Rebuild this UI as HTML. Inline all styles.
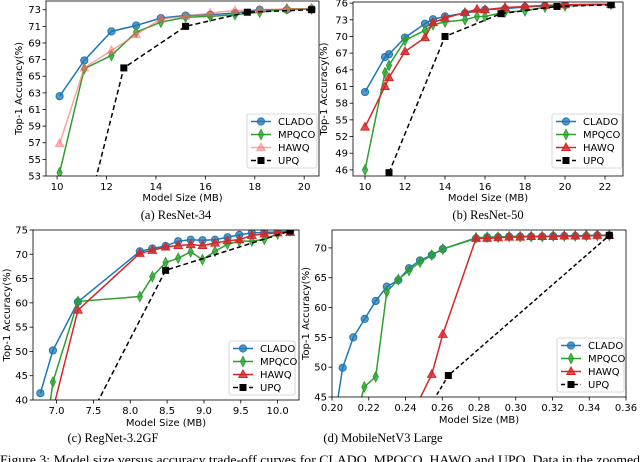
<!DOCTYPE html>
<html><head><meta charset="utf-8">
<style>
body{margin:0;background:#fff;}
svg{display:block;font-family:"DejaVu Sans","Liberation Sans",sans-serif;}
.cap{font-family:"Liberation Serif",serif;font-size:12.5px;}
</style></head>
<body>
<svg id="fig" width="640" height="462" viewBox="0 0 640 462" xmlns="http://www.w3.org/2000/svg"></svg>
<script>
// ---- (a) ResNet-34 ----
const aCladoX=[10.1,11.1,12.2,13.2,14.2,15.2,16.2,17.2,18.2,19.3,20.3];
const aCladoY=[62.6,66.9,70.4,71.1,72.0,72.3,72.4,72.6,73.0,73.0,73.1];
const aMpqcoX=[10.1,11.1,12.2,13.2,14.2,15.2,16.2,17.2,18.2,19.3,20.3];
const aMpqcoY=[53.4,65.9,67.5,70.3,71.5,72.1,72.2,72.4,72.7,73.1,73.1];
const aHawqX=[10.1,11.1,12.2,13.2,14.2,15.2,16.2,17.2,18.2,19.3,20.3];
const aHawqY=[56.9,66.0,68.1,70.0,71.9,72.2,72.6,72.9,73.0,73.1,73.1];
const aUpqX=[11.0,12.7,15.2,17.7,20.3];
const aUpqY=[46.0,66.0,71.0,72.7,73.0];
const aXTicks=[10,12,14,16,18,20];
const aYTicks=[53,55,57,59,61,63,65,67,69,71,73];
// ---- (b) ResNet-50 ----
const bCladoX=[10,11,11.2,12,13,13.4,14,15,16,17,18,19,20,22.3];
const bCladoY=[60,66.3,66.8,69.8,72.3,73.1,73.6,74.2,74.8,75,75.3,75.5,75.7,75.8];
const bMpqcoX=[10,11,11.2,12,13,13.4,14,15,15.6,16,17,18,19,20,22.3];
const bMpqcoY=[46,63.5,64.8,69.3,71.1,72.1,72.6,73,73.6,73.6,74.4,74.6,75.3,75.5,75.8];
const bHawqX=[10,11,11.2,12,13,13.4,14,15,15.6,16,17,18,19,20,22.3];
const bHawqY=[53.7,61,62.6,67.3,69.8,72.5,73.3,74.3,74.9,74.8,75.2,75.4,75.6,75.7,75.8];
const bUpqX=[11.2,14,16.8,19.6,22.3];
const bUpqY=[45.5,70,74.1,75.4,75.7];
const bXTicks=[10,12,14,16,18,20,22];
const bYTicks=[46,49,52,55,58,61,64,67,70,73,76];
// ---- (c) RegNet-3.2GF ----
const cCladoX=[6.78,6.95,7.29,8.13,8.3,8.48,8.65,8.82,8.98,9.15,9.32,9.48,9.65,9.82,10.0,10.17];
const cCladoY=[41.4,50.2,60.2,70.6,71.2,71.7,72.7,73,72.9,73,73.5,74,74.4,74.5,74.6,74.8];
const cMpqcoX=[6.9,6.95,7.29,8.13,8.3,8.48,8.65,8.82,8.98,9.15,9.32,9.48,9.65,9.82,10.0,10.17];
const cMpqcoY=[38,43.7,60.3,61.3,65.4,68.3,69.2,70.5,68.9,70.6,72.1,72.7,72.7,73.1,74.2,74.8];
const cHawqX=[6.95,7.29,8.13,8.3,8.48,8.65,8.82,8.98,9.15,9.32,9.48,9.65,9.82,10.0,10.17];
const cHawqY=[38,58.5,70.2,70.8,71.5,71.8,72,71.8,72.3,72.8,73,73.9,74.2,74.4,74.5];
const cUpqX=[7.4,8.48,10.17];
const cUpqY=[35,66.7,74.8];
const cXTicks=[7.0,7.5,8.0,8.5,9.0,9.5,10.0];
const cYTicks=[40,45,50,55,60,65,70,75];
// ---- (d) MobileNetV3 Large ----
const dCladoX=[0.1998,0.2058,0.2116,0.2178,0.2238,0.2298,0.2361,0.2419,0.2479,0.2543,0.2603,0.2784,0.2844,0.2904,0.2964,0.3024,0.3084,0.3144,0.3204,0.3264,0.3324,0.3384,0.3444,0.3509];
const dCladoY=[38,49.9,55.0,58.1,61.1,63.5,64.6,66.6,67.9,68.8,69.8,71.6,71.8,71.8,71.9,71.9,71.9,71.9,72.0,72.0,72.0,72.0,72.1,72.1];
const dMpqcoX=[0.2118,0.2176,0.2238,0.2298,0.2361,0.2419,0.2479,0.2543,0.2603,0.2784,0.2844,0.2904,0.2964,0.3024,0.3084,0.3144,0.3204,0.3264,0.3324,0.3384,0.3444,0.3509];
const dMpqcoY=[40,46.7,48.4,62.6,64.7,66.2,67.6,68.8,69.8,71.7,71.8,71.8,71.9,71.9,71.9,71.9,72.0,72.0,72.0,72.1,72.1,72.1];
const dHawqX=[0.2419,0.2543,0.2603,0.2784,0.2844,0.2904,0.2964,0.3024,0.3084,0.3144,0.3204,0.3264,0.3324,0.3384,0.3444,0.3509];
const dHawqY=[41,48.8,55.5,71.6,71.6,71.7,71.8,71.8,71.9,71.9,71.9,72.0,72.0,72.0,72.1,72.1];
const dUpqX=[0.2479,0.2633,0.3509];
const dUpqY=[40.7,48.6,72.1];
const dXTicks=[0.20,0.22,0.24,0.26,0.28,0.30,0.32,0.34,0.36];
const dYTicks=[45,50,55,60,65,70];

const NS='http://www.w3.org/2000/svg';
const fig=document.getElementById('fig');
function mk(tag,attrs,parent){const e=document.createElementNS(NS,tag);for(const k in attrs)e.setAttribute(k,attrs[k]);(parent||fig).appendChild(e);return e;}
const BLUE='#1f77b4',GREEN='#2ca02c',RED='#d62728';

function marker(g,type,x,y,color){
  let m;
  if(type==='o'){m=mk('circle',{cx:x,cy:y,r:3.6,fill:color,'fill-opacity':0.75,stroke:color},g);}
  else if(type==='d'){m=mk('polygon',{points:`${x},${y-5} ${x+2.6},${y} ${x},${y+5} ${x-2.6},${y}`,fill:color,'fill-opacity':0.75,stroke:color},g);}
  else if(type==='^'){m=mk('polygon',{points:`${x},${y-4.5} ${x+4.2},${y+3} ${x-4.2},${y+3}`,fill:color,'fill-opacity':0.8,stroke:color},g);}
  else {m=mk('rect',{x:x-3.5,y:y-3.5,width:7,height:7,fill:'#000'},g);}
  
  
  return m;
}

function plot(cfg){
  const {id,L,R,T,B,x0,x1,y0,y1,xt,yt,xfmt,series,legend,cap,capX,capY,ylabX,xlabY}=cfg;
  const sx=v=>L+(v-x0)/(x1-x0)*(R-L);
  const sy=v=>B-(v-y0)/(y1-y0)*(B-T);
  const g=mk('g',{});
  
  
  const cp=mk('clipPath',{id:'clip'+id},g);
  mk('rect',{x:L,y:T,width:R-L,height:B-T},cp);
  const dg=mk('g',{'clip-path':`url(#clip${id})`},g);
  series.forEach(s=>{
    const sg=mk('g',{},dg);
    
    
    const pts=s.x.map((v,i)=>sx(v)+','+sy(s.y[i])).join(' ');
    mk('polyline',{points:pts,fill:'none',stroke:s.color,'stroke-width':1.5,'stroke-dasharray':s.dash||'none','stroke-opacity':s.op||1},sg);
    s.x.forEach((v,i)=>{const m=marker(sg,s.m,sx(v),sy(s.y[i]),s.color);if(s.op)m.setAttribute('opacity',s.op);});
  });
  const fr=mk('rect',{x:L,y:T,width:R-L,height:B-T,fill:'none',stroke:'#000','stroke-width':0.8},g);
  
  
  xt.forEach(v=>{
    const x=sx(v);
    mk('line',{x1:x,y1:B,x2:x,y2:B+3.5,stroke:'#000','stroke-width':0.8},g);
    const t=mk('text',{x:x,y:B+14,'font-size':10,'text-anchor':'middle'},g);
    t.textContent=xfmt(v);
    
    
  });
  yt.forEach(v=>{
    const y=sy(v);
    mk('line',{x1:L,y1:y,x2:L-3.5,y2:y,stroke:'#000','stroke-width':0.8},g);
    const t=mk('text',{x:L-5,y:y+3.5,'font-size':10,'text-anchor':'end'},g);
    t.textContent=v;
    
    
  });
  const xl=mk('text',{x:(L+R)/2,y:xlabY,'font-size':10,'text-anchor':'middle'},g);
  xl.textContent='Model Size (MB)';
  
  
  const yc=(T+B)/2;
  const yl=mk('text',{x:ylabX,y:yc,'font-size':10,'text-anchor':'middle',transform:`rotate(-90 ${ylabX} ${yc})`},g);
  yl.textContent='Top-1 Accuracy(%)';
  
  
  const c=mk('text',{x:capX,y:capY,'text-anchor':'middle',class:'cap'},g);
  c.textContent=cap;
  
  
  const lg=mk('g',{},g);
  
  
  mk('rect',{x:legend.x,y:legend.y,width:legend.w,height:54,rx:2,fill:'#fff','fill-opacity':0.85,stroke:'#ccc','stroke-width':0.8},lg);
  series.forEach((s,i)=>{
    const ey=legend.y+7.5+i*13;
    const eg=mk('g',{},lg);
    
    
    mk('line',{x1:legend.x+4,y1:ey,x2:legend.x+24,y2:ey,stroke:s.color,'stroke-width':1.5,'stroke-dasharray':s.dash||'none','stroke-opacity':s.op||1},eg);
    const m=marker(eg,s.m,legend.x+14,ey,s.color); if(s.op)m.setAttribute('opacity',s.op);
    const t=mk('text',{x:legend.x+31,y:ey+3.5,'font-size':10},eg);
    t.textContent=s.name;
  });
}
const f0=v=>String(v), f1=v=>v.toFixed(1), f2=v=>v.toFixed(2);
plot({id:'a',L:46,R:319,T:1,B:176,x0:9.55,x1:20.6,y0:53,y1:74.05,xt:aXTicks,yt:aYTicks,xfmt:f0,
  series:[{name:'CLADO',x:aCladoX,y:aCladoY,color:BLUE,m:'o'},{name:'MPQCO',x:aMpqcoX,y:aMpqcoY,color:GREEN,m:'d'},
  {name:'HAWQ',x:aHawqX,y:aHawqY,color:'#ff6666',m:'^',op:0.6},{name:'UPQ',x:aUpqX,y:aUpqY,color:'#000',m:'s',dash:'5,3'}],
  legend:{x:247,y:114,w:70},cap:'(a) ResNet-34',capX:176,capY:219,ylabX:22,xlabY:201});
plot({id:'b',L:353,R:623,T:2,B:176,x0:9.4,x1:22.9,y0:44.9,y1:76.2,xt:bXTicks,yt:bYTicks,xfmt:f0,
  series:[{name:'CLADO',x:bCladoX,y:bCladoY,color:BLUE,m:'o'},{name:'MPQCO',x:bMpqcoX,y:bMpqcoY,color:GREEN,m:'d'},
  {name:'HAWQ',x:bHawqX,y:bHawqY,color:RED,m:'^'},{name:'UPQ',x:bUpqX,y:bUpqY,color:'#000',m:'s',dash:'5,3'}],
  legend:{x:552,y:114,w:70},cap:'(b) ResNet-50',capX:488,capY:219,ylabX:327,xlabY:201});
plot({id:'c',L:33,R:299,T:230,B:400,x0:6.68,x1:10.29,y0:40,y1:75,xt:cXTicks,yt:cYTicks,xfmt:f1,
  series:[{name:'CLADO',x:cCladoX,y:cCladoY,color:BLUE,m:'o'},{name:'MPQCO',x:cMpqcoX,y:cMpqcoY,color:GREEN,m:'d'},
  {name:'HAWQ',x:cHawqX,y:cHawqY,color:RED,m:'^'},{name:'UPQ',x:cUpqX,y:cUpqY,color:'#000',m:'s',dash:'5,3'}],
  legend:{x:229,y:341,w:66},cap:'(c) RegNet-3.2GF',capX:113,capY:442,ylabX:10,xlabY:426});
plot({id:'d',L:332,R:626,T:230,B:397,x0:0.20,x1:0.36,y0:45,y1:73,xt:dXTicks,yt:dYTicks,xfmt:f2,
  series:[{name:'CLADO',x:dCladoX,y:dCladoY,color:BLUE,m:'o'},{name:'MPQCO',x:dMpqcoX,y:dMpqcoY,color:GREEN,m:'d'},
  {name:'HAWQ',x:dHawqX,y:dHawqY,color:RED,m:'^'},{name:'UPQ',x:dUpqX,y:dUpqY,color:'#000',m:'s',dash:'4,2.5'}],
  legend:{x:557,y:338,w:67},cap:'(d) MobileNetV3 Large',capX:383,capY:442,ylabX:309,xlabY:423});
const fc=mk('text',{x:0,y:464,class:'cap','font-size':13,'textLength':640,'lengthAdjust':'spacingAndGlyphs'});
fc.textContent='Figure 3: Model size versus accuracy trade-off curves for CLADO, MPQCO, HAWQ and UPQ. Data in the zoomed';


</script>
</body></html>
